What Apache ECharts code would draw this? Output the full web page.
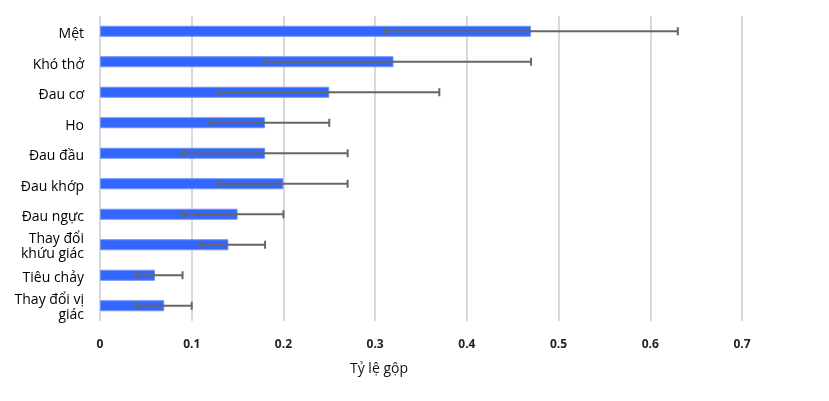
<!DOCTYPE html>
<html><head><meta charset="utf-8">
<script src="https://cdn.jsdelivr.net/npm/echarts@6/dist/echarts.min.js"></script>
<style>html,body{margin:0;padding:0;background:#fff}#c{width:829px;height:401px}</style>
</head><body><div id="c"></div>
<script>
const categories = ['Mệt','Khó thở','Đau cơ','Ho','Đau đầu','Đau khớp','Đau ngực','Thay đổi\nkhứu giác','Tiêu chảy','Thay đổi vị\ngiác'];
const values = [0.47,0.32,0.25,0.18,0.18,0.20,0.15,0.14,0.06,0.07];
const lower = [0.31,0.18,0.13,0.12,0.09,0.13,0.09,0.11,0.04,0.04];
const upper = [0.63,0.47,0.37,0.25,0.27,0.27,0.20,0.18,0.09,0.10];
const xTicks = [0,0.1,0.2,0.3,0.4,0.5,0.6,0.7];
const axisTitle = 'Tỷ lệ gộp';

const errData = categories.map((c,i)=>[i, lower[i], upper[i]]);
const chart = echarts.init(document.getElementById('c'));
chart.setOption({
  animation:false,
  grid:{left:100,right:87,top:16,bottom:80},
  xAxis:{type:'value',min:0,max:0.7,interval:0.1,
    axisLine:{show:false},axisTick:{show:false},
    splitLine:{show:true,lineStyle:{color:'#d9d9d9',width:2}},
    axisLabel:{margin:18,fontFamily:'Open Sans',fontWeight:'bold',fontSize:12,color:'#222',
      formatter:v=>{const t=xTicks.find(x=>Math.abs(x-v)<1e-9);return t===0?'0':String(t);}}},
  yAxis:{type:'category',data:categories,inverse:true,
    axisLine:{show:false},axisTick:{show:false},
    axisLabel:{interval:0,margin:16,fontFamily:'Open Sans',fontSize:14,color:'#000',lineHeight:18,align:'right',
      formatter:v=>{const L=v.split('\n');return L.map((s,k)=>'{'+(k===0?'f':'a')+'|'+s+'}').join('\n');},
      rich:{f:{fontFamily:'Open Sans',fontSize:14,color:'#000',lineHeight:18,padding:[6,0,0,0]},
            a:{fontFamily:'Open Sans',fontSize:14,color:'#000',lineHeight:18}}}},
  graphic:[{type:'text',left:350,top:362,style:{text:axisTitle,font:'14px "Open Sans"',fill:'#111'}}],
  series:[
    {type:'bar',data:values,barWidth:11,itemStyle:{color:'#3366ff',borderColor:'#6f93f5',borderWidth:1}},
    {type:'custom',data:errData,z:10,
     renderItem:function(params,api){
       const i=api.value(0);
       const p1=api.coord([api.value(1),i]);
       const p2=api.coord([api.value(2),i]);
       const h=4;
       const st={stroke:'#666',lineWidth:2};
       return {type:'group',children:[
         {type:'line',shape:{x1:p1[0],y1:p1[1],x2:p2[0],y2:p2[1]},style:st},
         {type:'line',shape:{x1:p1[0],y1:p1[1]-h,x2:p1[0],y2:p1[1]+h},style:st},
         {type:'line',shape:{x1:p2[0],y1:p2[1]-h,x2:p2[0],y2:p2[1]+h},style:st}
       ]};
     },
     encode:{x:[1,2],y:0}}
  ]
});
</script></body></html>
